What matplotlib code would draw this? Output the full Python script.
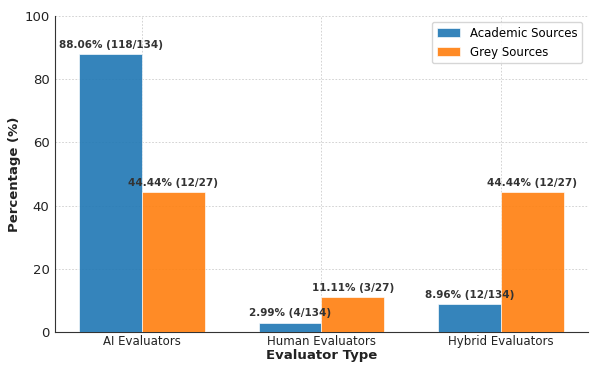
import matplotlib
matplotlib.use("Agg")
import matplotlib.pyplot as plt
import numpy as np

categories = ["AI Evaluators", "Human Evaluators", "Hybrid Evaluators"]
academic_pct = [88.06, 2.99, 8.96]
grey_pct = [44.44, 11.11, 44.44]
academic_labels = ["88.06% (118/134)", "2.99% (4/134)", "8.96% (12/134)"]
grey_labels = ["44.44% (12/27)", "11.11% (3/27)", "44.44% (12/27)"]

fig = plt.figure(figsize=(5.98, 3.74), dpi=100)
ax = fig.add_axes([0.092, 0.112, 0.891, 0.845])

x = np.arange(len(categories))
w = 0.35
b1 = ax.bar(x - w/2, academic_pct, w, color="#1f77b4", alpha=0.9, edgecolor="white", linewidth=0.5, label="Academic Sources", zorder=3)
b2 = ax.bar(x + w/2, grey_pct, w, color="#ff7f0e", alpha=0.9, edgecolor="white", linewidth=0.5, label="Grey Sources", zorder=3)

for bars, labels in ((b1, academic_labels), (b2, grey_labels)):
    for rect, lab in zip(bars, labels):
        ax.annotate(lab, (rect.get_x() + rect.get_width()/2, rect.get_height()),
                    xytext=(0, 3), textcoords="offset points", ha="center", va="bottom",
                    fontsize=7.5, fontweight="bold", color="#333333", zorder=4)

ax.set_xticks(x)
ax.set_xticklabels(categories, fontsize=8.5)
ax.set_ylim(0, 100)
ax.tick_params(axis="y", labelsize=9.5, length=0, pad=4, colors="#222222")
ax.tick_params(axis="x", length=0, pad=2, colors="#222222")
ax.set_xlabel("Evaluator Type", fontsize=9.5, fontweight="bold", labelpad=1, color="#222222")
ax.set_ylabel("Percentage (%)", fontsize=9.5, fontweight="bold", labelpad=2, color="#222222")
ax.grid(True, linestyle=(0, (2, 2)), color="#cccccc", linewidth=0.6, zorder=0)
ax.spines["top"].set_visible(False)
ax.spines["right"].set_visible(False)
ax.spines["left"].set_color("#333333")
ax.spines["bottom"].set_color("#333333")
ax.legend(loc="upper right", fontsize=8.5)

fig.savefig("out.png", dpi=100)
